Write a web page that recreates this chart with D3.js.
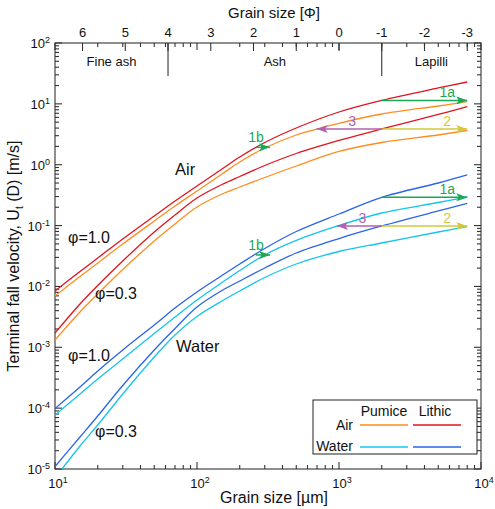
<!DOCTYPE html>
<html><head><meta charset="utf-8">
<script src="https://cdn.jsdelivr.net/npm/d3@7"></script>
<style>
body{margin:0;background:#fff}
text{font-family:"Liberation Sans",Arial,Helvetica,sans-serif;fill:#111}
</style>
</head><body>
<svg id="chart" width="495" height="509"></svg>
<script>
// ---------------- data ----------------
const grainSize = [10, 15, 20, 30, 50, 70, 100, 150, 200, 300, 500, 1000, 2000, 5000, 8000]; // µm
// terminal fall velocity [m/s]
const airLithic10   = [0.00842, 0.0176, 0.0293, 0.0602, 0.1437, 0.2534, 0.447, 0.851, 1.339, 2.318, 4.012, 7.35, 11.40, 18.23, 22.87];
const airPumice10   = [0.00697, 0.01457, 0.02427, 0.0498, 0.1189, 0.2098, 0.370, 0.704, 1.108, 1.882, 3.078, 4.793, 6.81, 9.22, 10.85];
const airLithic03   = [0.001718, 0.005147, 0.01036, 0.02618, 0.0784, 0.1492, 0.2839, 0.4732, 0.6406, 0.9710, 1.529, 2.500, 3.863, 6.69, 8.98];
const airPumice03   = [0.001318, 0.003802, 0.007510, 0.01898, 0.0558, 0.1062, 0.2019, 0.3303, 0.4305, 0.6166, 0.9528, 1.649, 2.318, 3.078, 3.65];
const waterLithic10 = [9.87e-5, 2.227e-4, 4.077e-4, 9.03e-4, 0.002325, 0.004421, 0.00810, 0.01513, 0.02337, 0.0420, 0.0799, 0.1550, 0.2915, 0.5006, 0.678];
const waterPumice10 = [7.72e-5, 1.709e-4, 3.013e-4, 6.42e-4, 0.001686, 0.003147, 0.00599, 0.01161, 0.01827, 0.03285, 0.0569, 0.1003, 0.1609, 0.2394, 0.2948];
const waterLithic03 = [1.100e-5, 3.358e-5, 7.43e-5, 2.357e-4, 9.03e-4, 0.002037, 0.004595, 0.00858, 0.01229, 0.02009, 0.03544, 0.0613, 0.0984, 0.1737, 0.2306];
const waterPumice03 = [7.12e-6, 2.389e-5, 5.29e-5, 1.709e-4, 6.93e-4, 0.001593, 0.003207, 0.005766, 0.00842, 0.01402, 0.02337, 0.0375, 0.0517, 0.0784, 0.0958];

// arrows
const arrowLabels = ["1a", "2", "3", "1b", "1a", "2", "3", "1b"];
const arrowFrom   = [2000, 2000, 2000, 260, 2000, 2000, 2000, 260];
const arrowTo     = [8000, 8000, 697, 327, 8000, 8000, 968, 327];
const arrowVel    = [11.4, 3.863, 3.863, 1.93, 0.2915, 0.0984, 0.0984, 0.0329];

const phiTicks = [6, 5, 4, 3, 2, 1, 0, -1, -2, -3];
const yExponents = [2, 1, 0, -1, -2, -3, -4, -5];
const xExponents = [1, 2, 3, 4];
const classNames = ["Fine ash", "Ash", "Lapilli"];
const classBounds = [4, -1]; // phi
const shapeLabels = ["φ=1.0", "φ=0.3", "φ=1.0", "φ=0.3"];
const mediumLabels = ["Air", "Water"];

// ---------------- setup ----------------
const C = {
  airPumice: "#ff8c1e", airLithic: "#e0141e",
  waterPumice: "#14c4f0", waterLithic: "#2a64e8",
  green: "#1aa856", yellow: "#d2c83a", purple: "#b062b0", axis: "#333"
};
const svg = d3.select("#chart");
const L = 55, R = 481, T = 43, B = 469;
const x = d3.scaleLog().domain([10, 1e4]).range([L, R]);
const y = d3.scaleLog().domain([1e-5, 1e2]).range([B, T]);
const phiToUm = p => 1000 * Math.pow(2, -p);

const defs = svg.append("defs");
defs.append("clipPath").attr("id", "clip").append("rect")
  .attr("x", L).attr("y", T).attr("width", R - L).attr("height", B - T);
Object.entries({green: C.green, yellow: C.yellow, purple: C.purple}).forEach(([k, c]) => {
  defs.append("marker").attr("id", "ah-" + k)
    .attr("viewBox", "0 0 11 8").attr("refX", 11).attr("refY", 4)
    .attr("markerWidth", 11).attr("markerHeight", 8).attr("markerUnits", "userSpaceOnUse")
    .attr("orient", "auto")
    .append("path").attr("d", "M0,0 L11,4 L0,8 L2.5,4 Z").attr("fill", c);
});

// ---------------- axes ----------------
const minorVals = [];
for (let e = 1; e < 4; e++) for (let k = 1; k < 10; k++) minorVals.push(k * Math.pow(10, e));
minorVals.push(1e4);
const minorY = [];
for (let e = -5; e < 2; e++) for (let k = 1; k < 10; k++) minorY.push(k * Math.pow(10, e));
minorY.push(100);
const isMajor = v => Math.abs(Math.log10(v) - Math.round(Math.log10(v))) < 1e-9;

const ax = svg.append("g").attr("stroke", C.axis).attr("stroke-width", 1.1);
ax.append("rect").attr("x", L).attr("y", T).attr("width", R - L).attr("height", B - T).attr("fill", "none");

minorVals.forEach(v => {
  const len = isMajor(v) ? 7 : 4;
  ax.append("line").attr("x1", x(v)).attr("x2", x(v)).attr("y1", B).attr("y2", B - len);
  ax.append("line").attr("x1", x(v)).attr("x2", x(v)).attr("y1", T).attr("y2", T + len);
});
phiTicks.forEach(p => {
  ax.append("line").attr("x1", x(phiToUm(p))).attr("x2", x(phiToUm(p))).attr("y1", T).attr("y2", T + 8);
});
minorY.forEach(v => {
  const len = isMajor(v) ? 7 : 4;
  ax.append("line").attr("x1", L).attr("x2", L + len).attr("y1", y(v)).attr("y2", y(v));
  ax.append("line").attr("x1", R).attr("x2", R - len).attr("y1", y(v)).attr("y2", y(v));
});

yExponents.forEach(e => {
  const t = svg.append("text").attr("x", 50).attr("y", y(Math.pow(10, e)) + 5)
    .attr("text-anchor", "end").attr("font-size", 13);
  t.append("tspan").text("10");
  t.append("tspan").attr("font-size", 9).attr("dy", -5).text(e);
});
xExponents.forEach(e => {
  const t = svg.append("text").attr("x", x(Math.pow(10, e)) + 3).attr("y", 488)
    .attr("text-anchor", "middle").attr("font-size", 13);
  t.append("tspan").text("10");
  t.append("tspan").attr("font-size", 9).attr("dy", -5).text(e);
});
phiTicks.forEach(p => {
  svg.append("text").attr("x", x(phiToUm(p))).attr("y", 37)
    .attr("text-anchor", "middle").attr("font-size", 13).text(p);
});
svg.append("text").attr("x", 274).attr("y", 18).attr("text-anchor", "middle")
  .attr("font-size", 15).text("Grain size [Φ]");
svg.append("text").attr("x", 274).attr("y", 503).attr("text-anchor", "middle")
  .attr("font-size", 16).text("Grain size [µm]");
const yt = svg.append("text").attr("transform", "translate(19,256) rotate(-90)")
  .attr("text-anchor", "middle").attr("font-size", 16);
yt.append("tspan").text("Terminal fall velocity, U");
yt.append("tspan").attr("font-size", 10).attr("dy", 4).text("t");
yt.append("tspan").attr("dy", -4).text(" (D) [m/s]");

classBounds.forEach(p => {
  ax.append("line").attr("x1", x(phiToUm(p))).attr("x2", x(phiToUm(p))).attr("y1", T).attr("y2", 76);
});
const classEdges = [10, phiToUm(classBounds[0]), phiToUm(classBounds[1]), 1e4];
classNames.forEach((n, i) => {
  const cx = (x(classEdges[i]) + x(classEdges[i + 1])) / 2;
  svg.append("text").attr("x", cx).attr("y", 66).attr("text-anchor", "middle")
    .attr("font-size", 13).text(n);
});

// ---------------- curves ----------------
const line = d3.line().x(d => x(d[0])).y(d => y(d[1])).curve(d3.curveCatmullRom.alpha(0.5));
const series = [
  [airPumice10, C.airPumice], [airPumice03, C.airPumice],
  [airLithic10, C.airLithic], [airLithic03, C.airLithic],
  [waterPumice10, C.waterPumice], [waterPumice03, C.waterPumice],
  [waterLithic10, C.waterLithic], [waterLithic03, C.waterLithic]
];
const cg = svg.append("g").attr("clip-path", "url(#clip)");
series.forEach(([vals, col]) => {
  cg.append("path").datum(grainSize.map((g, i) => [g, vals[i]]))
    .attr("d", line).attr("fill", "none").attr("stroke", col).attr("stroke-width", 1.3);
});

// ---------------- arrows ----------------
const arrowColour = l => l.startsWith("1") ? "green" : (l === "2" ? "yellow" : "purple");
arrowLabels.forEach((l, i) => {
  const k = arrowColour(l);
  const x1 = x(arrowFrom[i]), x2 = x(arrowTo[i]), yy = y(arrowVel[i]);
  svg.append("line").attr("x1", x1).attr("x2", x2).attr("y1", yy).attr("y2", yy)
    .attr("stroke", C[k]).attr("stroke-width", 1.5).attr("marker-end", `url(#ah-${k})`);
  let lx;
  if (l === "3") lx = (x1 + x2) / 2 + 3;
  else if (l === "1b") lx = x1;
  else lx = x2 - 20;
  svg.append("text").attr("x", lx).attr("y", yy - (l === "1b" ? 5 : 3))
    .attr("text-anchor", "middle").attr("font-size", 14).style("fill", C[k]).text(l);
});

// ---------------- annotations ----------------
svg.append("text").attr("x", 175).attr("y", 175).attr("font-size", 16.5).text(mediumLabels[0]);
svg.append("text").attr("x", 176).attr("y", 352).attr("font-size", 16.5).text(mediumLabels[1]);
const shapePos = [[68, 243], [95, 299], [68, 361], [95, 437]];
shapeLabels.forEach((s, i) => {
  svg.append("text").attr("x", shapePos[i][0]).attr("y", shapePos[i][1]).attr("font-size", 16).text(s);
});

// ---------------- legend ----------------
const lg = svg.append("g");
lg.append("rect").attr("x", 313).attr("y", 400).attr("width", 164).attr("height", 54)
  .attr("fill", "#fff").attr("stroke", "#222").attr("stroke-width", 1);
lg.append("text").attr("x", 384).attr("y", 416).attr("text-anchor", "middle").attr("font-size", 14).text("Pumice");
lg.append("text").attr("x", 435).attr("y", 416).attr("text-anchor", "middle").attr("font-size", 14).text("Lithic");
lg.append("text").attr("x", 353).attr("y", 430).attr("text-anchor", "end").attr("font-size", 14).text(mediumLabels[0]);
lg.append("text").attr("x", 353).attr("y", 451).attr("text-anchor", "end").attr("font-size", 14).text(mediumLabels[1]);
[[C.airPumice, 360, 425], [C.airLithic, 413, 425], [C.waterPumice, 360, 447], [C.waterLithic, 413, 447]]
  .forEach(([c, lx, ly]) => lg.append("line").attr("x1", lx).attr("x2", lx + 48).attr("y1", ly).attr("y2", ly)
    .attr("stroke", c).attr("stroke-width", 1.3));
</script>
</body></html>
